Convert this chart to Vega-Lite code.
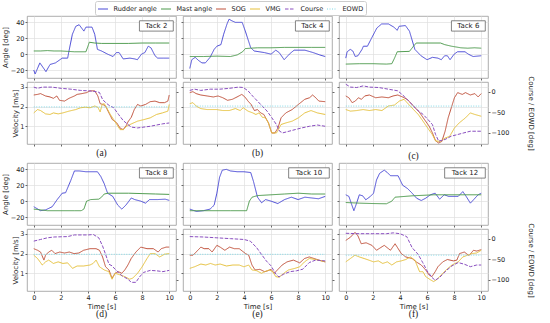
{
"$schema": "https://vega.github.io/schema/vega-lite/v6.json",
"padding": {"left": 1, "top": 0, "right": 0, "bottom": 0},
"config": {"font": "DejaVu Sans", "view": {"stroke": "#999", "strokeWidth": 0.8},
 "axis": {"labelFontSize": 6.5, "titleFontSize": 7, "titleFontWeight": "normal", "tickColor": "#666", "tickSize": 2, "labelPadding": 1, "domain": false, "gridColor": "#e0e0e0", "gridWidth": 0.7, "labelColor": "#222", "titleColor": "#222", "titlePadding": 1.5, "labelOverlap": false, "format": "~g"},
 "axisX": {"titlePadding": 1.5},
 "legend": {"labelFontSize": 6.5, "symbolType": "stroke", "symbolSize": 100, "symbolStrokeWidth": 1.2, "labelOffset": 5, "columnPadding": 1, "strokeColor": "#ccc", "padding": 2.5, "cornerRadius": 2, "fillColor": "white", "labelColor": "#222"},
 "line": {"strokeWidth": 1}},
"data": {"values": [
{"k":2,"s":"Rudder angle","t":0,"v":-20},{"k":2,"s":"Rudder angle","t":0.1,"v":-25},{"k":2,"s":"Rudder angle","t":0.45,"v":-11},{"k":2,"s":"Rudder angle","t":0.9,"v":-22},{"k":2,"s":"Rudder angle","t":1.2,"v":-13},{"k":2,"s":"Rudder angle","t":1.6,"v":-11},{"k":2,"s":"Rudder angle","t":2.1,"v":-5},{"k":2,"s":"Rudder angle","t":2.5,"v":-5},{"k":2,"s":"Rudder angle","t":2.6,"v":4},{"k":2,"s":"Rudder angle","t":2.85,"v":25},{"k":2,"s":"Rudder angle","t":3.1,"v":35},{"k":2,"s":"Rudder angle","t":3.35,"v":37},{"k":2,"s":"Rudder angle","t":3.7,"v":29},{"k":2,"s":"Rudder angle","t":3.85,"v":34},{"k":2,"s":"Rudder angle","t":4.3,"v":34},{"k":2,"s":"Rudder angle","t":4.5,"v":25},{"k":2,"s":"Rudder angle","t":4.7,"v":6},{"k":2,"s":"Rudder angle","t":5.0,"v":4},{"k":2,"s":"Rudder angle","t":5.45,"v":0},{"k":2,"s":"Rudder angle","t":5.85,"v":-3},{"k":2,"s":"Rudder angle","t":6.1,"v":2},{"k":2,"s":"Rudder angle","t":6.3,"v":2},{"k":2,"s":"Rudder angle","t":6.6,"v":-6},{"k":2,"s":"Rudder angle","t":7.1,"v":-5},{"k":2,"s":"Rudder angle","t":7.45,"v":-6},{"k":2,"s":"Rudder angle","t":7.65,"v":-7},{"k":2,"s":"Rudder angle","t":7.95,"v":0},{"k":2,"s":"Rudder angle","t":8.2,"v":2},{"k":2,"s":"Rudder angle","t":8.45,"v":10},{"k":2,"s":"Rudder angle","t":8.65,"v":8},{"k":2,"s":"Rudder angle","t":8.95,"v":-2},{"k":2,"s":"Rudder angle","t":9.15,"v":-5},{"k":2,"s":"Rudder angle","t":9.6,"v":-5},{"k":2,"s":"Rudder angle","t":10,"v":-5},
{"k":2,"s":"Mast angle","t":0,"v":4},{"k":2,"s":"Mast angle","t":0.5,"v":4},{"k":2,"s":"Mast angle","t":1,"v":4.5},{"k":2,"s":"Mast angle","t":1.5,"v":4},{"k":2,"s":"Mast angle","t":2,"v":4},{"k":2,"s":"Mast angle","t":2.5,"v":3.5},{"k":2,"s":"Mast angle","t":3,"v":3},{"k":2,"s":"Mast angle","t":3.85,"v":3},{"k":2,"s":"Mast angle","t":4.0,"v":10},{"k":2,"s":"Mast angle","t":4.1,"v":15},{"k":2,"s":"Mast angle","t":4.5,"v":14},{"k":2,"s":"Mast angle","t":5,"v":13.5},{"k":2,"s":"Mast angle","t":6,"v":13.5},{"k":2,"s":"Mast angle","t":7,"v":13.5},{"k":2,"s":"Mast angle","t":8,"v":14},{"k":2,"s":"Mast angle","t":9,"v":14},{"k":2,"s":"Mast angle","t":10,"v":14},
{"k":2,"s":"SOG","t":0,"v":2.59},{"k":2,"s":"SOG","t":0.28,"v":2.62},{"k":2,"s":"SOG","t":0.5,"v":2.66},{"k":2,"s":"SOG","t":0.87,"v":2.54},{"k":2,"s":"SOG","t":1.2,"v":2.49},{"k":2,"s":"SOG","t":1.45,"v":2.42},{"k":2,"s":"SOG","t":1.7,"v":2.54},{"k":2,"s":"SOG","t":1.9,"v":2.32},{"k":2,"s":"SOG","t":2.27,"v":2.28},{"k":2,"s":"SOG","t":2.6,"v":2.42},{"k":2,"s":"SOG","t":3.0,"v":2.54},{"k":2,"s":"SOG","t":3.2,"v":2.62},{"k":2,"s":"SOG","t":3.55,"v":2.66},{"k":2,"s":"SOG","t":3.9,"v":2.71},{"k":2,"s":"SOG","t":4.15,"v":2.8},{"k":2,"s":"SOG","t":4.5,"v":2.8},{"k":2,"s":"SOG","t":4.73,"v":2.54},{"k":2,"s":"SOG","t":4.9,"v":2.15},{"k":2,"s":"SOG","t":5.1,"v":2.11},{"k":2,"s":"SOG","t":5.3,"v":2.03},{"k":2,"s":"SOG","t":5.55,"v":1.68},{"k":2,"s":"SOG","t":5.8,"v":1.34},{"k":2,"s":"SOG","t":6.13,"v":1.17},{"k":2,"s":"SOG","t":6.37,"v":0.91},{"k":2,"s":"SOG","t":6.6,"v":0.83},{"k":2,"s":"SOG","t":6.84,"v":1.05},{"k":2,"s":"SOG","t":6.95,"v":1.22},{"k":2,"s":"SOG","t":7.2,"v":1.46},{"k":2,"s":"SOG","t":7.42,"v":1.85},{"k":2,"s":"SOG","t":7.66,"v":2.11},{"k":2,"s":"SOG","t":7.9,"v":2.03},{"k":2,"s":"SOG","t":8.25,"v":2.11},{"k":2,"s":"SOG","t":8.6,"v":2.25},{"k":2,"s":"SOG","t":8.95,"v":2.28},{"k":2,"s":"SOG","t":9.3,"v":2.2},{"k":2,"s":"SOG","t":9.65,"v":2.2},{"k":2,"s":"SOG","t":9.9,"v":2.28},{"k":2,"s":"SOG","t":10,"v":2.59},
{"k":2,"s":"VMG","t":0,"v":1.68},{"k":2,"s":"VMG","t":0.28,"v":1.85},{"k":2,"s":"VMG","t":0.5,"v":1.8},{"k":2,"s":"VMG","t":0.87,"v":1.63},{"k":2,"s":"VMG","t":1.2,"v":1.6},{"k":2,"s":"VMG","t":1.45,"v":1.68},{"k":2,"s":"VMG","t":1.8,"v":1.63},{"k":2,"s":"VMG","t":2.15,"v":1.68},{"k":2,"s":"VMG","t":2.6,"v":1.77},{"k":2,"s":"VMG","t":3.1,"v":1.85},{"k":2,"s":"VMG","t":3.45,"v":1.94},{"k":2,"s":"VMG","t":3.8,"v":1.97},{"k":2,"s":"VMG","t":4.15,"v":1.94},{"k":2,"s":"VMG","t":4.5,"v":2.03},{"k":2,"s":"VMG","t":4.73,"v":1.97},{"k":2,"s":"VMG","t":4.9,"v":1.73},{"k":2,"s":"VMG","t":5.05,"v":2.11},{"k":2,"s":"VMG","t":5.2,"v":2.15},{"k":2,"s":"VMG","t":5.45,"v":1.85},{"k":2,"s":"VMG","t":5.65,"v":1.6},{"k":2,"s":"VMG","t":5.9,"v":1.34},{"k":2,"s":"VMG","t":6.13,"v":1.09},{"k":2,"s":"VMG","t":6.37,"v":0.83},{"k":2,"s":"VMG","t":6.6,"v":0.83},{"k":2,"s":"VMG","t":6.84,"v":1.0},{"k":2,"s":"VMG","t":7.2,"v":1.12},{"k":2,"s":"VMG","t":7.66,"v":1.26},{"k":2,"s":"VMG","t":8.13,"v":1.34},{"k":2,"s":"VMG","t":8.6,"v":1.43},{"k":2,"s":"VMG","t":9.06,"v":1.6},{"k":2,"s":"VMG","t":9.5,"v":1.68},{"k":2,"s":"VMG","t":9.9,"v":1.77},{"k":2,"s":"VMG","t":10,"v":2.11},
{"k":2,"s":"Course","t":0,"v":11},{"k":2,"s":"Course","t":0.28,"v":8},{"k":2,"s":"Course","t":0.63,"v":11},{"k":2,"s":"Course","t":1.33,"v":11},{"k":2,"s":"Course","t":2.03,"v":8},{"k":2,"s":"Course","t":2.74,"v":6},{"k":2,"s":"Course","t":3.44,"v":3},{"k":2,"s":"Course","t":4.03,"v":2},{"k":2,"s":"Course","t":4.61,"v":0},{"k":2,"s":"Course","t":4.85,"v":-2},{"k":2,"s":"Course","t":5.08,"v":-19},{"k":2,"s":"Course","t":5.32,"v":-27},{"k":2,"s":"Course","t":5.55,"v":-33},{"k":2,"s":"Course","t":5.9,"v":-39},{"k":2,"s":"Course","t":6.25,"v":-55},{"k":2,"s":"Course","t":6.6,"v":-70},{"k":2,"s":"Course","t":6.96,"v":-80},{"k":2,"s":"Course","t":7.2,"v":-86},{"k":2,"s":"Course","t":7.66,"v":-88},{"k":2,"s":"Course","t":8.13,"v":-86},{"k":2,"s":"Course","t":8.6,"v":-84},{"k":2,"s":"Course","t":9.06,"v":-81},{"k":2,"s":"Course","t":9.53,"v":-78},{"k":2,"s":"Course","t":10,"v":-76},
{"k":2,"s":"EOWD","t":0,"v":-37},{"k":2,"s":"EOWD","t":10,"v":-37},
{"k":4,"s":"Rudder angle","t":0,"v":-18},{"k":4,"s":"Rudder angle","t":0.15,"v":-7},{"k":4,"s":"Rudder angle","t":0.4,"v":-4},{"k":4,"s":"Rudder angle","t":0.65,"v":-8},{"k":4,"s":"Rudder angle","t":0.9,"v":-11},{"k":4,"s":"Rudder angle","t":1.15,"v":-11},{"k":4,"s":"Rudder angle","t":1.5,"v":-4},{"k":4,"s":"Rudder angle","t":1.8,"v":6},{"k":4,"s":"Rudder angle","t":2.0,"v":10},{"k":4,"s":"Rudder angle","t":2.3,"v":12},{"k":4,"s":"Rudder angle","t":2.5,"v":25},{"k":4,"s":"Rudder angle","t":2.75,"v":38},{"k":4,"s":"Rudder angle","t":2.9,"v":44},{"k":4,"s":"Rudder angle","t":3.1,"v":42},{"k":4,"s":"Rudder angle","t":3.37,"v":40},{"k":4,"s":"Rudder angle","t":3.87,"v":40},{"k":4,"s":"Rudder angle","t":4.1,"v":29},{"k":4,"s":"Rudder angle","t":4.5,"v":8},{"k":4,"s":"Rudder angle","t":4.75,"v":4},{"k":4,"s":"Rudder angle","t":5.5,"v":2},{"k":4,"s":"Rudder angle","t":6.0,"v":0},{"k":4,"s":"Rudder angle","t":6.35,"v":5},{"k":4,"s":"Rudder angle","t":6.6,"v":2},{"k":4,"s":"Rudder angle","t":6.97,"v":-7},{"k":4,"s":"Rudder angle","t":7.35,"v":0},{"k":4,"s":"Rudder angle","t":7.7,"v":5},{"k":4,"s":"Rudder angle","t":8.5,"v":5},{"k":4,"s":"Rudder angle","t":9.1,"v":2},{"k":4,"s":"Rudder angle","t":9.6,"v":-1},{"k":4,"s":"Rudder angle","t":10,"v":-3},
{"k":4,"s":"Mast angle","t":0,"v":-3},{"k":4,"s":"Mast angle","t":1,"v":-3},{"k":4,"s":"Mast angle","t":2,"v":-2.5},{"k":4,"s":"Mast angle","t":3,"v":-3},{"k":4,"s":"Mast angle","t":3.5,"v":-1},{"k":4,"s":"Mast angle","t":3.9,"v":3},{"k":4,"s":"Mast angle","t":4.1,"v":7},{"k":4,"s":"Mast angle","t":4.5,"v":7.5},{"k":4,"s":"Mast angle","t":5,"v":8},{"k":4,"s":"Mast angle","t":6,"v":8},{"k":4,"s":"Mast angle","t":7,"v":8.5},{"k":4,"s":"Mast angle","t":8,"v":8.5},{"k":4,"s":"Mast angle","t":9,"v":8.5},{"k":4,"s":"Mast angle","t":10,"v":8.5},
{"k":4,"s":"SOG","t":0,"v":2.71},{"k":4,"s":"SOG","t":0.23,"v":2.76},{"k":4,"s":"SOG","t":0.47,"v":2.66},{"k":4,"s":"SOG","t":0.81,"v":2.59},{"k":4,"s":"SOG","t":1.28,"v":2.54},{"k":4,"s":"SOG","t":1.74,"v":2.49},{"k":4,"s":"SOG","t":2.09,"v":2.54},{"k":4,"s":"SOG","t":2.44,"v":2.45},{"k":4,"s":"SOG","t":2.79,"v":2.32},{"k":4,"s":"SOG","t":3.14,"v":2.37},{"k":4,"s":"SOG","t":3.49,"v":2.49},{"k":4,"s":"SOG","t":3.84,"v":2.62},{"k":4,"s":"SOG","t":4.07,"v":2.49},{"k":4,"s":"SOG","t":4.3,"v":2.28},{"k":4,"s":"SOG","t":4.53,"v":2.11},{"k":4,"s":"SOG","t":4.77,"v":1.8},{"k":4,"s":"SOG","t":5.0,"v":1.85},{"k":4,"s":"SOG","t":5.23,"v":1.68},{"k":4,"s":"SOG","t":5.47,"v":1.6},{"k":4,"s":"SOG","t":5.81,"v":1.17},{"k":4,"s":"SOG","t":6.05,"v":0.66},{"k":4,"s":"SOG","t":6.28,"v":0.66},{"k":4,"s":"SOG","t":6.51,"v":0.91},{"k":4,"s":"SOG","t":6.74,"v":1.43},{"k":4,"s":"SOG","t":7.09,"v":1.68},{"k":4,"s":"SOG","t":7.56,"v":1.85},{"k":4,"s":"SOG","t":8.02,"v":2.11},{"k":4,"s":"SOG","t":8.49,"v":2.37},{"k":4,"s":"SOG","t":8.84,"v":2.45},{"k":4,"s":"SOG","t":9.07,"v":2.59},{"k":4,"s":"SOG","t":9.3,"v":2.45},{"k":4,"s":"SOG","t":9.53,"v":2.28},{"k":4,"s":"SOG","t":10,"v":2.25},
{"k":4,"s":"VMG","t":0,"v":2.15},{"k":4,"s":"VMG","t":0.23,"v":2.2},{"k":4,"s":"VMG","t":0.47,"v":2.03},{"k":4,"s":"VMG","t":0.81,"v":1.9},{"k":4,"s":"VMG","t":1.28,"v":1.85},{"k":4,"s":"VMG","t":1.98,"v":1.85},{"k":4,"s":"VMG","t":2.44,"v":1.8},{"k":4,"s":"VMG","t":2.91,"v":1.8},{"k":4,"s":"VMG","t":3.37,"v":1.9},{"k":4,"s":"VMG","t":3.72,"v":1.8},{"k":4,"s":"VMG","t":3.95,"v":1.94},{"k":4,"s":"VMG","t":4.3,"v":1.77},{"k":4,"s":"VMG","t":4.65,"v":1.68},{"k":4,"s":"VMG","t":4.88,"v":1.6},{"k":4,"s":"VMG","t":5.12,"v":1.68},{"k":4,"s":"VMG","t":5.35,"v":1.46},{"k":4,"s":"VMG","t":5.58,"v":1.43},{"k":4,"s":"VMG","t":5.81,"v":1.17},{"k":4,"s":"VMG","t":6.05,"v":0.66},{"k":4,"s":"VMG","t":6.4,"v":0.66},{"k":4,"s":"VMG","t":6.74,"v":1.09},{"k":4,"s":"VMG","t":7.09,"v":1.17},{"k":4,"s":"VMG","t":7.56,"v":1.26},{"k":4,"s":"VMG","t":8.02,"v":1.43},{"k":4,"s":"VMG","t":8.49,"v":1.68},{"k":4,"s":"VMG","t":8.95,"v":1.8},{"k":4,"s":"VMG","t":9.42,"v":1.68},{"k":4,"s":"VMG","t":10,"v":1.6},
{"k":4,"s":"Course","t":0,"v":3},{"k":4,"s":"Course","t":0.35,"v":6},{"k":4,"s":"Course","t":0.81,"v":3},{"k":4,"s":"Course","t":1.51,"v":6},{"k":4,"s":"Course","t":2.21,"v":6},{"k":4,"s":"Course","t":2.91,"v":8},{"k":4,"s":"Course","t":3.6,"v":11},{"k":4,"s":"Course","t":3.95,"v":10},{"k":4,"s":"Course","t":4.3,"v":2},{"k":4,"s":"Course","t":4.65,"v":-11},{"k":4,"s":"Course","t":5.0,"v":-23},{"k":4,"s":"Course","t":5.35,"v":-35},{"k":4,"s":"Course","t":5.7,"v":-47},{"k":4,"s":"Course","t":6.05,"v":-63},{"k":4,"s":"Course","t":6.4,"v":-80},{"k":4,"s":"Course","t":6.63,"v":-96},{"k":4,"s":"Course","t":6.86,"v":-100},{"k":4,"s":"Course","t":7.33,"v":-96},{"k":4,"s":"Course","t":7.79,"v":-92},{"k":4,"s":"Course","t":8.26,"v":-88},{"k":4,"s":"Course","t":8.84,"v":-84},{"k":4,"s":"Course","t":9.42,"v":-81},{"k":4,"s":"Course","t":10,"v":-84},
{"k":4,"s":"EOWD","t":0,"v":-35},{"k":4,"s":"EOWD","t":10,"v":-35},
{"k":6,"s":"Rudder angle","t":0,"v":-5},{"k":6,"s":"Rudder angle","t":0.1,"v":3},{"k":6,"s":"Rudder angle","t":0.33,"v":6},{"k":6,"s":"Rudder angle","t":0.52,"v":4},{"k":6,"s":"Rudder angle","t":0.7,"v":-3},{"k":6,"s":"Rudder angle","t":0.9,"v":-2},{"k":6,"s":"Rudder angle","t":1.2,"v":6},{"k":6,"s":"Rudder angle","t":1.3,"v":10},{"k":6,"s":"Rudder angle","t":1.6,"v":10},{"k":6,"s":"Rudder angle","t":1.9,"v":20},{"k":6,"s":"Rudder angle","t":2.3,"v":33},{"k":6,"s":"Rudder angle","t":2.65,"v":38},{"k":6,"s":"Rudder angle","t":3.15,"v":38},{"k":6,"s":"Rudder angle","t":3.55,"v":34},{"k":6,"s":"Rudder angle","t":3.8,"v":30},{"k":6,"s":"Rudder angle","t":3.93,"v":35},{"k":6,"s":"Rudder angle","t":4.4,"v":36},{"k":6,"s":"Rudder angle","t":4.7,"v":29},{"k":6,"s":"Rudder angle","t":5.1,"v":6},{"k":6,"s":"Rudder angle","t":5.55,"v":-2},{"k":6,"s":"Rudder angle","t":6.0,"v":-7},{"k":6,"s":"Rudder angle","t":6.4,"v":-4},{"k":6,"s":"Rudder angle","t":6.8,"v":-5},{"k":6,"s":"Rudder angle","t":7.05,"v":-7},{"k":6,"s":"Rudder angle","t":7.3,"v":-2},{"k":6,"s":"Rudder angle","t":7.5,"v":-2},{"k":6,"s":"Rudder angle","t":7.7,"v":-7},{"k":6,"s":"Rudder angle","t":8.0,"v":0},{"k":6,"s":"Rudder angle","t":8.25,"v":3},{"k":6,"s":"Rudder angle","t":8.8,"v":3},{"k":6,"s":"Rudder angle","t":9.05,"v":0},{"k":6,"s":"Rudder angle","t":9.4,"v":-3},{"k":6,"s":"Rudder angle","t":10,"v":-2},
{"k":6,"s":"Mast angle","t":0,"v":-12.5},{"k":6,"s":"Mast angle","t":1,"v":-12},{"k":6,"s":"Mast angle","t":2,"v":-12},{"k":6,"s":"Mast angle","t":3,"v":-12.5},{"k":6,"s":"Mast angle","t":3.4,"v":-12},{"k":6,"s":"Mast angle","t":3.6,"v":-5},{"k":6,"s":"Mast angle","t":3.8,"v":3},{"k":6,"s":"Mast angle","t":4.7,"v":3.5},{"k":6,"s":"Mast angle","t":5.0,"v":10},{"k":6,"s":"Mast angle","t":5.2,"v":14},{"k":6,"s":"Mast angle","t":6,"v":14},{"k":6,"s":"Mast angle","t":7,"v":14},{"k":6,"s":"Mast angle","t":7.3,"v":12},{"k":6,"s":"Mast angle","t":7.8,"v":10},{"k":6,"s":"Mast angle","t":8.5,"v":8},{"k":6,"s":"Mast angle","t":9,"v":7.5},{"k":6,"s":"Mast angle","t":9.5,"v":8},{"k":6,"s":"Mast angle","t":10,"v":7.5},
{"k":6,"s":"SOG","t":0,"v":2.54},{"k":6,"s":"SOG","t":0.23,"v":2.45},{"k":6,"s":"SOG","t":0.47,"v":2.2},{"k":6,"s":"SOG","t":0.7,"v":2.28},{"k":6,"s":"SOG","t":0.93,"v":2.45},{"k":6,"s":"SOG","t":1.16,"v":2.37},{"k":6,"s":"SOG","t":1.4,"v":2.54},{"k":6,"s":"SOG","t":1.74,"v":2.59},{"k":6,"s":"SOG","t":2.21,"v":2.45},{"k":6,"s":"SOG","t":2.67,"v":2.49},{"k":6,"s":"SOG","t":3.14,"v":2.45},{"k":6,"s":"SOG","t":3.49,"v":2.54},{"k":6,"s":"SOG","t":3.84,"v":2.59},{"k":6,"s":"SOG","t":4.19,"v":2.49},{"k":6,"s":"SOG","t":4.53,"v":2.37},{"k":6,"s":"SOG","t":4.77,"v":2.2},{"k":6,"s":"SOG","t":5.12,"v":1.94},{"k":6,"s":"SOG","t":5.47,"v":1.68},{"k":6,"s":"SOG","t":5.81,"v":1.34},{"k":6,"s":"SOG","t":6.16,"v":1.0},{"k":6,"s":"SOG","t":6.4,"v":0.66},{"k":6,"s":"SOG","t":6.63,"v":0.26},{"k":6,"s":"SOG","t":6.86,"v":0.15},{"k":6,"s":"SOG","t":7.09,"v":0.23},{"k":6,"s":"SOG","t":7.33,"v":0.74},{"k":6,"s":"SOG","t":7.56,"v":1.43},{"k":6,"s":"SOG","t":7.79,"v":1.94},{"k":6,"s":"SOG","t":8.02,"v":2.45},{"k":6,"s":"SOG","t":8.26,"v":2.71},{"k":6,"s":"SOG","t":8.6,"v":2.62},{"k":6,"s":"SOG","t":8.84,"v":2.71},{"k":6,"s":"SOG","t":9.19,"v":2.59},{"k":6,"s":"SOG","t":9.53,"v":2.66},{"k":6,"s":"SOG","t":9.77,"v":2.49},{"k":6,"s":"SOG","t":10,"v":2.66},
{"k":6,"s":"VMG","t":0,"v":1.85},{"k":6,"s":"VMG","t":0.35,"v":1.77},{"k":6,"s":"VMG","t":0.81,"v":1.8},{"k":6,"s":"VMG","t":1.28,"v":1.85},{"k":6,"s":"VMG","t":1.74,"v":1.8},{"k":6,"s":"VMG","t":2.21,"v":1.85},{"k":6,"s":"VMG","t":2.67,"v":1.8},{"k":6,"s":"VMG","t":3.14,"v":2.03},{"k":6,"s":"VMG","t":3.6,"v":2.08},{"k":6,"s":"VMG","t":3.95,"v":2.28},{"k":6,"s":"VMG","t":4.3,"v":2.37},{"k":6,"s":"VMG","t":4.65,"v":2.11},{"k":6,"s":"VMG","t":5.0,"v":1.85},{"k":6,"s":"VMG","t":5.35,"v":1.6},{"k":6,"s":"VMG","t":5.7,"v":1.26},{"k":6,"s":"VMG","t":6.05,"v":0.91},{"k":6,"s":"VMG","t":6.4,"v":0.57},{"k":6,"s":"VMG","t":6.63,"v":0.26},{"k":6,"s":"VMG","t":6.98,"v":0.23},{"k":6,"s":"VMG","t":7.33,"v":0.4},{"k":6,"s":"VMG","t":7.67,"v":0.49},{"k":6,"s":"VMG","t":8.02,"v":0.91},{"k":6,"s":"VMG","t":8.37,"v":1.17},{"k":6,"s":"VMG","t":8.84,"v":1.43},{"k":6,"s":"VMG","t":9.19,"v":1.68},{"k":6,"s":"VMG","t":9.53,"v":1.6},{"k":6,"s":"VMG","t":10,"v":1.51},
{"k":6,"s":"Course","t":0,"v":18},{"k":6,"s":"Course","t":0.35,"v":11},{"k":6,"s":"Course","t":0.81,"v":10},{"k":6,"s":"Course","t":1.28,"v":14},{"k":6,"s":"Course","t":1.74,"v":11},{"k":6,"s":"Course","t":2.44,"v":10},{"k":6,"s":"Course","t":3.14,"v":6},{"k":6,"s":"Course","t":3.84,"v":2},{"k":6,"s":"Course","t":4.3,"v":-11},{"k":6,"s":"Course","t":4.77,"v":-27},{"k":6,"s":"Course","t":5.23,"v":-43},{"k":6,"s":"Course","t":5.7,"v":-55},{"k":6,"s":"Course","t":6.05,"v":-67},{"k":6,"s":"Course","t":6.4,"v":-80},{"k":6,"s":"Course","t":6.63,"v":-104},{"k":6,"s":"Course","t":6.86,"v":-120},{"k":6,"s":"Course","t":7.33,"v":-116},{"k":6,"s":"Course","t":7.79,"v":-108},{"k":6,"s":"Course","t":8.26,"v":-104},{"k":6,"s":"Course","t":8.72,"v":-100},{"k":6,"s":"Course","t":9.19,"v":-96},{"k":6,"s":"Course","t":10,"v":-96},
{"k":6,"s":"EOWD","t":0,"v":-35},{"k":6,"s":"EOWD","t":10,"v":-35},
{"k":8,"s":"Rudder angle","t":0,"v":-7},{"k":8,"s":"Rudder angle","t":0.5,"v":-12},{"k":8,"s":"Rudder angle","t":0.87,"v":-11},{"k":8,"s":"Rudder angle","t":1.36,"v":-7},{"k":8,"s":"Rudder angle","t":1.73,"v":2},{"k":8,"s":"Rudder angle","t":2.1,"v":10},{"k":8,"s":"Rudder angle","t":2.35,"v":10.6},{"k":8,"s":"Rudder angle","t":2.73,"v":26},{"k":8,"s":"Rudder angle","t":3.0,"v":38},{"k":8,"s":"Rudder angle","t":3.35,"v":38},{"k":8,"s":"Rudder angle","t":3.85,"v":37},{"k":8,"s":"Rudder angle","t":4.7,"v":37},{"k":8,"s":"Rudder angle","t":4.95,"v":31},{"k":8,"s":"Rudder angle","t":5.2,"v":22},{"k":8,"s":"Rudder angle","t":5.45,"v":10},{"k":8,"s":"Rudder angle","t":5.83,"v":6},{"k":8,"s":"Rudder angle","t":6.2,"v":-5},{"k":8,"s":"Rudder angle","t":6.5,"v":-10},{"k":8,"s":"Rudder angle","t":6.8,"v":-5},{"k":8,"s":"Rudder angle","t":7.2,"v":4},{"k":8,"s":"Rudder angle","t":7.45,"v":2},{"k":8,"s":"Rudder angle","t":7.9,"v":0},{"k":8,"s":"Rudder angle","t":8.25,"v":-2.5},{"k":8,"s":"Rudder angle","t":8.55,"v":2},{"k":8,"s":"Rudder angle","t":9.15,"v":2},{"k":8,"s":"Rudder angle","t":9.7,"v":2.5},{"k":8,"s":"Rudder angle","t":10,"v":1},
{"k":8,"s":"Mast angle","t":0,"v":-10},{"k":8,"s":"Mast angle","t":1,"v":-12},{"k":8,"s":"Mast angle","t":2,"v":-12},{"k":8,"s":"Mast angle","t":3,"v":-12},{"k":8,"s":"Mast angle","t":3.5,"v":-12},{"k":8,"s":"Mast angle","t":3.7,"v":-10},{"k":8,"s":"Mast angle","t":3.9,"v":0},{"k":8,"s":"Mast angle","t":4.2,"v":2},{"k":8,"s":"Mast angle","t":4.8,"v":2.5},{"k":8,"s":"Mast angle","t":5.0,"v":5},{"k":8,"s":"Mast angle","t":5.2,"v":9},{"k":8,"s":"Mast angle","t":5.5,"v":10},{"k":8,"s":"Mast angle","t":6,"v":10},{"k":8,"s":"Mast angle","t":7,"v":10},{"k":8,"s":"Mast angle","t":8,"v":9.5},{"k":8,"s":"Mast angle","t":9,"v":9},{"k":8,"s":"Mast angle","t":10,"v":8.5},
{"k":8,"s":"SOG","t":0,"v":2.25},{"k":8,"s":"SOG","t":0.28,"v":2.17},{"k":8,"s":"SOG","t":0.5,"v":2.08},{"k":8,"s":"SOG","t":0.75,"v":1.67},{"k":8,"s":"SOG","t":0.87,"v":1.92},{"k":8,"s":"SOG","t":1.1,"v":2.08},{"k":8,"s":"SOG","t":1.33,"v":2.17},{"k":8,"s":"SOG","t":1.57,"v":2.0},{"k":8,"s":"SOG","t":1.92,"v":2.08},{"k":8,"s":"SOG","t":2.27,"v":2.03},{"k":8,"s":"SOG","t":2.62,"v":2.08},{"k":8,"s":"SOG","t":2.97,"v":2.0},{"k":8,"s":"SOG","t":3.33,"v":2.03},{"k":8,"s":"SOG","t":3.68,"v":2.17},{"k":8,"s":"SOG","t":4.15,"v":2.25},{"k":8,"s":"SOG","t":4.6,"v":2.25},{"k":8,"s":"SOG","t":4.85,"v":2.17},{"k":8,"s":"SOG","t":5.08,"v":1.83},{"k":8,"s":"SOG","t":5.3,"v":1.33},{"k":8,"s":"SOG","t":5.55,"v":1.17},{"k":8,"s":"SOG","t":5.78,"v":0.75},{"k":8,"s":"SOG","t":6.0,"v":1.0},{"k":8,"s":"SOG","t":6.25,"v":1.08},{"k":8,"s":"SOG","t":6.5,"v":1.0},{"k":8,"s":"SOG","t":6.72,"v":1.17},{"k":8,"s":"SOG","t":6.95,"v":1.42},{"k":8,"s":"SOG","t":7.19,"v":1.75},{"k":8,"s":"SOG","t":7.54,"v":2.08},{"k":8,"s":"SOG","t":7.9,"v":2.33},{"k":8,"s":"SOG","t":8.36,"v":2.25},{"k":8,"s":"SOG","t":8.83,"v":2.25},{"k":8,"s":"SOG","t":9.18,"v":2.08},{"k":8,"s":"SOG","t":9.41,"v":2.25},{"k":8,"s":"SOG","t":9.77,"v":2.33},{"k":8,"s":"SOG","t":10,"v":2.33},
{"k":8,"s":"VMG","t":0,"v":1.92},{"k":8,"s":"VMG","t":0.28,"v":1.75},{"k":8,"s":"VMG","t":0.63,"v":1.42},{"k":8,"s":"VMG","t":0.87,"v":1.58},{"k":8,"s":"VMG","t":1.1,"v":1.67},{"k":8,"s":"VMG","t":1.45,"v":1.5},{"k":8,"s":"VMG","t":1.8,"v":1.58},{"k":8,"s":"VMG","t":2.15,"v":1.5},{"k":8,"s":"VMG","t":2.5,"v":1.53},{"k":8,"s":"VMG","t":2.86,"v":1.25},{"k":8,"s":"VMG","t":3.2,"v":1.37},{"k":8,"s":"VMG","t":3.68,"v":1.37},{"k":8,"s":"VMG","t":4.15,"v":1.42},{"k":8,"s":"VMG","t":4.38,"v":1.5},{"k":8,"s":"VMG","t":4.6,"v":1.67},{"k":8,"s":"VMG","t":4.85,"v":1.33},{"k":8,"s":"VMG","t":5.2,"v":1.17},{"k":8,"s":"VMG","t":5.55,"v":1.08},{"k":8,"s":"VMG","t":5.78,"v":0.7},{"k":8,"s":"VMG","t":6.0,"v":1.0},{"k":8,"s":"VMG","t":6.37,"v":0.92},{"k":8,"s":"VMG","t":6.72,"v":0.83},{"k":8,"s":"VMG","t":7.07,"v":0.7},{"k":8,"s":"VMG","t":7.3,"v":0.75},{"k":8,"s":"VMG","t":7.66,"v":1.0},{"k":8,"s":"VMG","t":8.0,"v":1.33},{"k":8,"s":"VMG","t":8.36,"v":1.75},{"k":8,"s":"VMG","t":8.6,"v":2.0},{"k":8,"s":"VMG","t":8.95,"v":2.0},{"k":8,"s":"VMG","t":9.3,"v":1.83},{"k":8,"s":"VMG","t":9.65,"v":1.97},{"k":8,"s":"VMG","t":10,"v":2.0},
{"k":8,"s":"Course","t":0,"v":-6},{"k":8,"s":"Course","t":0.5,"v":-2},{"k":8,"s":"Course","t":1.0,"v":2},{"k":8,"s":"Course","t":1.5,"v":4},{"k":8,"s":"Course","t":2.5,"v":5},{"k":8,"s":"Course","t":3.0,"v":9},{"k":8,"s":"Course","t":4.0,"v":9},{"k":8,"s":"Course","t":4.4,"v":10},{"k":8,"s":"Course","t":4.8,"v":2},{"k":8,"s":"Course","t":5.08,"v":-18},{"k":8,"s":"Course","t":5.3,"v":-38},{"k":8,"s":"Course","t":5.55,"v":-62},{"k":8,"s":"Course","t":5.78,"v":-66},{"k":8,"s":"Course","t":6.0,"v":-74},{"k":8,"s":"Course","t":6.25,"v":-82},{"k":8,"s":"Course","t":6.5,"v":-90},{"k":8,"s":"Course","t":6.72,"v":-94},{"k":8,"s":"Course","t":6.95,"v":-98},{"k":8,"s":"Course","t":7.19,"v":-106},{"k":8,"s":"Course","t":7.54,"v":-106},{"k":8,"s":"Course","t":7.78,"v":-94},{"k":8,"s":"Course","t":8.1,"v":-82},{"k":8,"s":"Course","t":8.6,"v":-77},{"k":8,"s":"Course","t":9.06,"v":-78},{"k":8,"s":"Course","t":9.53,"v":-80},{"k":8,"s":"Course","t":10,"v":-77},
{"k":8,"s":"EOWD","t":0,"v":-38},{"k":8,"s":"EOWD","t":10,"v":-38},
{"k":10,"s":"Rudder angle","t":0,"v":-10},{"k":10,"s":"Rudder angle","t":0.5,"v":-13},{"k":10,"s":"Rudder angle","t":1,"v":-12},{"k":10,"s":"Rudder angle","t":1.5,"v":-10},{"k":10,"s":"Rudder angle","t":1.8,"v":-5},{"k":10,"s":"Rudder angle","t":2.0,"v":10},{"k":10,"s":"Rudder angle","t":2.2,"v":30},{"k":10,"s":"Rudder angle","t":2.4,"v":39},{"k":10,"s":"Rudder angle","t":2.7,"v":40},{"k":10,"s":"Rudder angle","t":3,"v":38},{"k":10,"s":"Rudder angle","t":3.5,"v":37},{"k":10,"s":"Rudder angle","t":4,"v":37},{"k":10,"s":"Rudder angle","t":4.5,"v":36},{"k":10,"s":"Rudder angle","t":4.7,"v":25},{"k":10,"s":"Rudder angle","t":5,"v":5},{"k":10,"s":"Rudder angle","t":5.3,"v":-2},{"k":10,"s":"Rudder angle","t":5.6,"v":2},{"k":10,"s":"Rudder angle","t":6,"v":0},{"k":10,"s":"Rudder angle","t":6.5,"v":-3},{"k":10,"s":"Rudder angle","t":7,"v":2},{"k":10,"s":"Rudder angle","t":7.5,"v":5},{"k":10,"s":"Rudder angle","t":8,"v":2},{"k":10,"s":"Rudder angle","t":8.5,"v":5},{"k":10,"s":"Rudder angle","t":9,"v":4},{"k":10,"s":"Rudder angle","t":9.5,"v":3},{"k":10,"s":"Rudder angle","t":10,"v":6},
{"k":10,"s":"Mast angle","t":0,"v":-12},{"k":10,"s":"Mast angle","t":1,"v":-12},{"k":10,"s":"Mast angle","t":2,"v":-12},{"k":10,"s":"Mast angle","t":3,"v":-12},{"k":10,"s":"Mast angle","t":4.2,"v":-12},{"k":10,"s":"Mast angle","t":4.4,"v":0},{"k":10,"s":"Mast angle","t":4.6,"v":5},{"k":10,"s":"Mast angle","t":5,"v":7},{"k":10,"s":"Mast angle","t":6,"v":8},{"k":10,"s":"Mast angle","t":7,"v":9},{"k":10,"s":"Mast angle","t":8,"v":10},{"k":10,"s":"Mast angle","t":9,"v":9},{"k":10,"s":"Mast angle","t":10,"v":9},
{"k":10,"s":"SOG","t":0,"v":1.92},{"k":10,"s":"SOG","t":0.24,"v":1.92},{"k":10,"s":"SOG","t":0.47,"v":2.08},{"k":10,"s":"SOG","t":0.82,"v":2.33},{"k":10,"s":"SOG","t":1.06,"v":2.25},{"k":10,"s":"SOG","t":1.41,"v":2.25},{"k":10,"s":"SOG","t":1.65,"v":2.08},{"k":10,"s":"SOG","t":2.0,"v":2.42},{"k":10,"s":"SOG","t":2.24,"v":2.33},{"k":10,"s":"SOG","t":2.59,"v":2.17},{"k":10,"s":"SOG","t":2.94,"v":2.33},{"k":10,"s":"SOG","t":3.29,"v":2.25},{"k":10,"s":"SOG","t":3.65,"v":2.25},{"k":10,"s":"SOG","t":4.12,"v":2.0},{"k":10,"s":"SOG","t":4.35,"v":1.92},{"k":10,"s":"SOG","t":4.59,"v":1.42},{"k":10,"s":"SOG","t":4.82,"v":1.17},{"k":10,"s":"SOG","t":5.18,"v":1.2},{"k":10,"s":"SOG","t":5.53,"v":1.08},{"k":10,"s":"SOG","t":5.76,"v":1.13},{"k":10,"s":"SOG","t":6.0,"v":1.2},{"k":10,"s":"SOG","t":6.24,"v":1.0},{"k":10,"s":"SOG","t":6.47,"v":1.17},{"k":10,"s":"SOG","t":6.82,"v":1.42},{"k":10,"s":"SOG","t":7.18,"v":1.58},{"k":10,"s":"SOG","t":7.65,"v":1.67},{"k":10,"s":"SOG","t":8.12,"v":1.53},{"k":10,"s":"SOG","t":8.47,"v":1.75},{"k":10,"s":"SOG","t":8.82,"v":1.83},{"k":10,"s":"SOG","t":9.18,"v":1.75},{"k":10,"s":"SOG","t":9.53,"v":1.67},{"k":10,"s":"SOG","t":10,"v":1.58},
{"k":10,"s":"VMG","t":0,"v":1.25},{"k":10,"s":"VMG","t":0.35,"v":1.33},{"k":10,"s":"VMG","t":0.82,"v":1.47},{"k":10,"s":"VMG","t":1.18,"v":1.42},{"k":10,"s":"VMG","t":1.53,"v":1.5},{"k":10,"s":"VMG","t":1.88,"v":1.42},{"k":10,"s":"VMG","t":2.24,"v":1.47},{"k":10,"s":"VMG","t":2.71,"v":1.37},{"k":10,"s":"VMG","t":3.18,"v":1.42},{"k":10,"s":"VMG","t":3.65,"v":1.42},{"k":10,"s":"VMG","t":4.0,"v":1.33},{"k":10,"s":"VMG","t":4.35,"v":1.42},{"k":10,"s":"VMG","t":4.59,"v":1.17},{"k":10,"s":"VMG","t":4.94,"v":1.13},{"k":10,"s":"VMG","t":5.29,"v":1.0},{"k":10,"s":"VMG","t":5.53,"v":1.08},{"k":10,"s":"VMG","t":5.88,"v":1.17},{"k":10,"s":"VMG","t":6.12,"v":1.08},{"k":10,"s":"VMG","t":6.35,"v":0.83},{"k":10,"s":"VMG","t":6.59,"v":0.8},{"k":10,"s":"VMG","t":6.94,"v":1.0},{"k":10,"s":"VMG","t":7.29,"v":1.17},{"k":10,"s":"VMG","t":7.76,"v":1.25},{"k":10,"s":"VMG","t":8.12,"v":1.33},{"k":10,"s":"VMG","t":8.47,"v":1.58},{"k":10,"s":"VMG","t":8.82,"v":1.75},{"k":10,"s":"VMG","t":9.29,"v":1.7},{"k":10,"s":"VMG","t":10,"v":1.58},
{"k":10,"s":"Course","t":0,"v":5},{"k":10,"s":"Course","t":1,"v":4},{"k":10,"s":"Course","t":2,"v":2},{"k":10,"s":"Course","t":3,"v":0},{"k":10,"s":"Course","t":4,"v":-2},{"k":10,"s":"Course","t":4.47,"v":-6},{"k":10,"s":"Course","t":4.94,"v":-22},{"k":10,"s":"Course","t":5.29,"v":-38},{"k":10,"s":"Course","t":5.65,"v":-54},{"k":10,"s":"Course","t":6.0,"v":-66},{"k":10,"s":"Course","t":6.35,"v":-86},{"k":10,"s":"Course","t":6.59,"v":-93},{"k":10,"s":"Course","t":6.94,"v":-86},{"k":10,"s":"Course","t":7.41,"v":-80},{"k":10,"s":"Course","t":7.88,"v":-78},{"k":10,"s":"Course","t":8.35,"v":-74},{"k":10,"s":"Course","t":8.82,"v":-58},{"k":10,"s":"Course","t":9.29,"v":-52},{"k":10,"s":"Course","t":10,"v":-54},
{"k":10,"s":"EOWD","t":0,"v":-38},{"k":10,"s":"EOWD","t":10,"v":-38},
{"k":12,"s":"Rudder angle","t":0,"v":8},{"k":12,"s":"Rudder angle","t":0.23,"v":6},{"k":12,"s":"Rudder angle","t":0.45,"v":-5},{"k":12,"s":"Rudder angle","t":0.6,"v":-12},{"k":12,"s":"Rudder angle","t":0.8,"v":-2.5},{"k":12,"s":"Rudder angle","t":1.0,"v":8},{"k":12,"s":"Rudder angle","t":1.25,"v":6.7},{"k":12,"s":"Rudder angle","t":1.48,"v":1.7},{"k":12,"s":"Rudder angle","t":1.82,"v":6},{"k":12,"s":"Rudder angle","t":2.05,"v":10},{"k":12,"s":"Rudder angle","t":2.27,"v":26.7},{"k":12,"s":"Rudder angle","t":2.5,"v":35},{"k":12,"s":"Rudder angle","t":2.84,"v":39},{"k":12,"s":"Rudder angle","t":3.07,"v":36},{"k":12,"s":"Rudder angle","t":3.3,"v":32},{"k":12,"s":"Rudder angle","t":3.86,"v":32},{"k":12,"s":"Rudder angle","t":4.2,"v":20},{"k":12,"s":"Rudder angle","t":4.55,"v":16},{"k":12,"s":"Rudder angle","t":4.9,"v":10},{"k":12,"s":"Rudder angle","t":5.23,"v":3.7},{"k":12,"s":"Rudder angle","t":5.57,"v":0.8},{"k":12,"s":"Rudder angle","t":5.9,"v":3.7},{"k":12,"s":"Rudder angle","t":6.25,"v":8},{"k":12,"s":"Rudder angle","t":6.6,"v":10},{"k":12,"s":"Rudder angle","t":6.93,"v":2.5},{"k":12,"s":"Rudder angle","t":7.27,"v":8},{"k":12,"s":"Rudder angle","t":7.6,"v":6},{"k":12,"s":"Rudder angle","t":8.3,"v":6},{"k":12,"s":"Rudder angle","t":8.64,"v":12},{"k":12,"s":"Rudder angle","t":8.86,"v":6.7},{"k":12,"s":"Rudder angle","t":9.2,"v":-2.5},{"k":12,"s":"Rudder angle","t":9.43,"v":1.7},{"k":12,"s":"Rudder angle","t":9.77,"v":8},{"k":12,"s":"Rudder angle","t":10,"v":10},
{"k":12,"s":"Mast angle","t":0,"v":-1.7},{"k":12,"s":"Mast angle","t":1,"v":-2.5},{"k":12,"s":"Mast angle","t":2,"v":-3},{"k":12,"s":"Mast angle","t":3,"v":-3.3},{"k":12,"s":"Mast angle","t":3.4,"v":0},{"k":12,"s":"Mast angle","t":3.64,"v":5},{"k":12,"s":"Mast angle","t":4.9,"v":6.7},{"k":12,"s":"Mast angle","t":6.5,"v":8},{"k":12,"s":"Mast angle","t":8,"v":8},{"k":12,"s":"Mast angle","t":10,"v":8},
{"k":12,"s":"SOG","t":0,"v":2.67},{"k":12,"s":"SOG","t":0.34,"v":2.83},{"k":12,"s":"SOG","t":0.68,"v":3.08},{"k":12,"s":"SOG","t":0.9,"v":2.9},{"k":12,"s":"SOG","t":1.14,"v":2.5},{"k":12,"s":"SOG","t":1.5,"v":2.55},{"k":12,"s":"SOG","t":1.93,"v":2.42},{"k":12,"s":"SOG","t":2.27,"v":2.17},{"k":12,"s":"SOG","t":2.84,"v":2.42},{"k":12,"s":"SOG","t":3.3,"v":2.17},{"k":12,"s":"SOG","t":3.64,"v":2.5},{"k":12,"s":"SOG","t":4.1,"v":2.0},{"k":12,"s":"SOG","t":4.43,"v":1.83},{"k":12,"s":"SOG","t":4.9,"v":1.75},{"k":12,"s":"SOG","t":5.2,"v":1.58},{"k":12,"s":"SOG","t":5.57,"v":1.42},{"k":12,"s":"SOG","t":5.9,"v":1.17},{"k":12,"s":"SOG","t":6.14,"v":0.92},{"k":12,"s":"SOG","t":6.36,"v":0.83},{"k":12,"s":"SOG","t":6.6,"v":1.08},{"k":12,"s":"SOG","t":6.8,"v":1.33},{"k":12,"s":"SOG","t":7.16,"v":1.58},{"k":12,"s":"SOG","t":7.5,"v":1.7},{"k":12,"s":"SOG","t":7.95,"v":1.63},{"k":12,"s":"SOG","t":8.2,"v":1.67},{"k":12,"s":"SOG","t":8.4,"v":2.0},{"k":12,"s":"SOG","t":8.75,"v":2.08},{"k":12,"s":"SOG","t":9.1,"v":1.9},{"k":12,"s":"SOG","t":9.43,"v":2.17},{"k":12,"s":"SOG","t":9.66,"v":2.13},{"k":12,"s":"SOG","t":10,"v":2.2},
{"k":12,"s":"VMG","t":0,"v":1.58},{"k":12,"s":"VMG","t":0.34,"v":1.75},{"k":12,"s":"VMG","t":0.68,"v":1.92},{"k":12,"s":"VMG","t":1.0,"v":1.83},{"k":12,"s":"VMG","t":1.36,"v":1.75},{"k":12,"s":"VMG","t":1.7,"v":1.67},{"k":12,"s":"VMG","t":2.05,"v":1.58},{"k":12,"s":"VMG","t":2.4,"v":1.63},{"k":12,"s":"VMG","t":2.73,"v":1.5},{"k":12,"s":"VMG","t":3.07,"v":1.58},{"k":12,"s":"VMG","t":3.4,"v":1.42},{"k":12,"s":"VMG","t":3.75,"v":1.58},{"k":12,"s":"VMG","t":4.1,"v":1.63},{"k":12,"s":"VMG","t":4.43,"v":1.7},{"k":12,"s":"VMG","t":4.77,"v":1.83},{"k":12,"s":"VMG","t":5.1,"v":1.67},{"k":12,"s":"VMG","t":5.45,"v":1.08},{"k":12,"s":"VMG","t":5.7,"v":1.08},{"k":12,"s":"VMG","t":5.9,"v":0.83},{"k":12,"s":"VMG","t":6.25,"v":0.67},{"k":12,"s":"VMG","t":6.48,"v":0.58},{"k":12,"s":"VMG","t":6.7,"v":0.67},{"k":12,"s":"VMG","t":7.05,"v":0.92},{"k":12,"s":"VMG","t":7.4,"v":1.17},{"k":12,"s":"VMG","t":7.84,"v":1.42},{"k":12,"s":"VMG","t":8.3,"v":1.58},{"k":12,"s":"VMG","t":8.64,"v":1.83},{"k":12,"s":"VMG","t":9.0,"v":1.92},{"k":12,"s":"VMG","t":9.3,"v":2.0},{"k":12,"s":"VMG","t":9.66,"v":2.03},{"k":12,"s":"VMG","t":10,"v":2.17},
{"k":12,"s":"Course","t":0,"v":13},{"k":12,"s":"Course","t":1,"v":12},{"k":12,"s":"Course","t":2,"v":12},{"k":12,"s":"Course","t":3,"v":12},{"k":12,"s":"Course","t":3.5,"v":14},{"k":12,"s":"Course","t":4,"v":12},{"k":12,"s":"Course","t":4.5,"v":5},{"k":12,"s":"Course","t":4.9,"v":-22},{"k":12,"s":"Course","t":5.34,"v":-38},{"k":12,"s":"Course","t":5.68,"v":-58},{"k":12,"s":"Course","t":6.0,"v":-78},{"k":12,"s":"Course","t":6.36,"v":-94},{"k":12,"s":"Course","t":6.6,"v":-101},{"k":12,"s":"Course","t":6.93,"v":-94},{"k":12,"s":"Course","t":7.4,"v":-78},{"k":12,"s":"Course","t":7.84,"v":-66},{"k":12,"s":"Course","t":8.3,"v":-58},{"k":12,"s":"Course","t":8.75,"v":-62},{"k":12,"s":"Course","t":9.2,"v":-68},{"k":12,"s":"Course","t":9.66,"v":-64},{"k":12,"s":"Course","t":10,"v":-64},
{"k":12,"s":"EOWD","t":0,"v":-40},{"k":12,"s":"EOWD","t":10,"v":-40}
]},
"resolve": {"scale": {"color": "shared", "strokeDash": "shared"}, "legend": {"color": "shared", "strokeDash": "shared"}},
"vconcat": [
{"hconcat": [
 {"vconcat": [
  {"width": 149, "height": 62, "layer": [
   {"transform": [{"filter": "datum.k==2 && (datum.s=='Rudder angle' || datum.s=='Mast angle')"}], "mark": {"type": "line", "clip": true},
    "encoding": {"x": {"field": "t", "type": "quantitative", "scale": {"domain": [-0.5, 10.5], "nice": false, "zero": false}, "axis": {"values": [0,2,4,6,8,10], "tickCount": 20, "labels": false, "title": null}},
     "y": {"field": "v", "type": "quantitative", "scale": {"domain": [-30, 48], "nice": false, "zero": false}, "axis": {"values": [-20,0,20,40], "tickCount": 20, "format": "d", "title": "Angle [deg]"}},
     "color": {"field": "s", "type": "nominal", "scale": {"domain": ["Rudder angle","Mast angle","SOG","VMG","Course","EOWD"], "range": ["#4a4ad6","#4c9a4c","#c0503a","#e6c13c","#8a4fc0","#7fd8e6"]}, "legend": {"orient": "none", "legendX": 68, "legendY": -15, "direction": "horizontal", "title": null}},
     "strokeDash": {"field": "s", "type": "nominal", "scale": {"domain": ["Rudder angle","Mast angle","SOG","VMG","Course","EOWD"], "range": [[1,0],[1,0],[1,0],[1,0],[3.5,1.5],[1,1.5]]}, "legend": {"orient": "none", "legendX": 68, "legendY": -15, "direction": "horizontal", "title": null}}}},
   {"data": {"values": [{}]}, "mark": {"type": "rect", "fill": "white", "stroke": "#666", "strokeWidth": 0.8}, "encoding": {"x": {"datum": 7.8}, "x2": {"datum": 10.3}, "y": {"datum": 29}, "y2": {"datum": 42}}},
   {"data": {"values": [{}]}, "mark": {"type": "text", "fontSize": 7, "color": "#222"}, "encoding": {"x": {"datum": 9.05}, "y": {"datum": 35.5}, "text": {"value": "Tack 2"}}}
  ]},
  {"width": 149, "height": 62, "title": {"text": "(a)", "orient": "bottom", "font": "Liberation Serif", "fontSize": 9.5, "fontWeight": "normal", "offset": 1, "color": "#222"}, "layer": [
   {"transform": [{"filter": "datum.k==2 && (datum.s=='SOG' || datum.s=='VMG')"}], "mark": {"type": "line", "clip": true},
    "encoding": {"x": {"field": "t", "type": "quantitative", "scale": {"domain": [-0.5, 10.5], "nice": false, "zero": false}, "axis": {"values": [0,2,4,6,8,10], "tickCount": 20, "labels": false, "title": null}},
     "y": {"field": "v", "type": "quantitative", "scale": {"domain": [0.1, 3.25], "nice": false, "zero": false}, "axis": {"values": [1,2,3], "tickCount": 20, "format": "d", "title": "Velocity [m/s]"}},
     "color": {"field": "s", "type": "nominal"}, "strokeDash": {"field": "s", "type": "nominal"}}},
   {"transform": [{"filter": "datum.k==2 && (datum.s=='Course' || datum.s=='EOWD')"}], "mark": {"type": "line", "clip": true},
    "encoding": {"x": {"field": "t", "type": "quantitative"},
     "y": {"field": "v", "type": "quantitative", "scale": {"domain": [-127, 23.4], "nice": false, "zero": false}, "axis": {"orient": "right", "values": [-100,-50,0], "tickCount": 20, "labels": false, "title": null, "grid": false}},
     "color": {"field": "s", "type": "nominal"}, "strokeDash": {"field": "s", "type": "nominal"}}}
  ], "resolve": {"scale": {"y": "independent"}}}
 ], "spacing": 4, "bounds": "flush"},
 {"vconcat": [
  {"width": 149, "height": 62, "layer": [
   {"transform": [{"filter": "datum.k==4 && (datum.s=='Rudder angle' || datum.s=='Mast angle')"}], "mark": {"type": "line", "clip": true},
    "encoding": {"x": {"field": "t", "type": "quantitative", "scale": {"domain": [-0.5, 10.5], "nice": false, "zero": false}, "axis": {"values": [0,2,4,6,8,10], "tickCount": 20, "labels": false, "title": null}},
     "y": {"field": "v", "type": "quantitative", "scale": {"domain": [-30, 48], "nice": false, "zero": false}, "axis": {"values": [-20,0,20,40], "tickCount": 20, "labels": false, "title": null}},
     "color": {"field": "s", "type": "nominal"}, "strokeDash": {"field": "s", "type": "nominal"}}},
   {"data": {"values": [{}]}, "mark": {"type": "rect", "fill": "white", "stroke": "#666", "strokeWidth": 0.8}, "encoding": {"x": {"datum": 7.8}, "x2": {"datum": 10.3}, "y": {"datum": 29}, "y2": {"datum": 42}}},
   {"data": {"values": [{}]}, "mark": {"type": "text", "fontSize": 7, "color": "#222"}, "encoding": {"x": {"datum": 9.05}, "y": {"datum": 35.5}, "text": {"value": "Tack 4"}}}
  ]},
  {"width": 149, "height": 62, "title": {"text": "(b)", "orient": "bottom", "font": "Liberation Serif", "fontSize": 9.5, "fontWeight": "normal", "offset": 1, "color": "#222"}, "layer": [
   {"transform": [{"filter": "datum.k==4 && (datum.s=='SOG' || datum.s=='VMG')"}], "mark": {"type": "line", "clip": true},
    "encoding": {"x": {"field": "t", "type": "quantitative", "scale": {"domain": [-0.5, 10.5], "nice": false, "zero": false}, "axis": {"values": [0,2,4,6,8,10], "tickCount": 20, "labels": false, "title": null}},
     "y": {"field": "v", "type": "quantitative", "scale": {"domain": [0.1, 3.25], "nice": false, "zero": false}, "axis": {"values": [1,2,3], "tickCount": 20, "labels": false, "title": null}},
     "color": {"field": "s", "type": "nominal"}, "strokeDash": {"field": "s", "type": "nominal"}}},
   {"transform": [{"filter": "datum.k==4 && (datum.s=='Course' || datum.s=='EOWD')"}], "mark": {"type": "line", "clip": true},
    "encoding": {"x": {"field": "t", "type": "quantitative"},
     "y": {"field": "v", "type": "quantitative", "scale": {"domain": [-127, 23.4], "nice": false, "zero": false}, "axis": {"orient": "right", "values": [-100,-50,0], "tickCount": 20, "labels": false, "title": null, "grid": false}},
     "color": {"field": "s", "type": "nominal"}, "strokeDash": {"field": "s", "type": "nominal"}}}
  ], "resolve": {"scale": {"y": "independent"}}}
 ], "spacing": 4, "bounds": "flush"},
 {"vconcat": [
  {"width": 149, "height": 62, "layer": [
   {"transform": [{"filter": "datum.k==6 && (datum.s=='Rudder angle' || datum.s=='Mast angle')"}], "mark": {"type": "line", "clip": true},
    "encoding": {"x": {"field": "t", "type": "quantitative", "scale": {"domain": [-0.5, 10.5], "nice": false, "zero": false}, "axis": {"values": [0,2,4,6,8,10], "tickCount": 20, "labels": false, "title": null}},
     "y": {"field": "v", "type": "quantitative", "scale": {"domain": [-30, 48], "nice": false, "zero": false}, "axis": {"values": [-20,0,20,40], "tickCount": 20, "labels": false, "title": null}},
     "color": {"field": "s", "type": "nominal"}, "strokeDash": {"field": "s", "type": "nominal"}}},
   {"data": {"values": [{}]}, "mark": {"type": "rect", "fill": "white", "stroke": "#666", "strokeWidth": 0.8}, "encoding": {"x": {"datum": 7.8}, "x2": {"datum": 10.3}, "y": {"datum": 29}, "y2": {"datum": 42}}},
   {"data": {"values": [{}]}, "mark": {"type": "text", "fontSize": 7, "color": "#222"}, "encoding": {"x": {"datum": 9.05}, "y": {"datum": 35.5}, "text": {"value": "Tack 6"}}}
  ]},
  {"width": 149, "height": 62, "title": {"text": "(c)", "orient": "bottom", "font": "Liberation Serif", "fontSize": 9.5, "fontWeight": "normal", "offset": 1, "color": "#222"}, "layer": [
   {"transform": [{"filter": "datum.k==6 && (datum.s=='SOG' || datum.s=='VMG')"}], "mark": {"type": "line", "clip": true},
    "encoding": {"x": {"field": "t", "type": "quantitative", "scale": {"domain": [-0.5, 10.5], "nice": false, "zero": false}, "axis": {"values": [0,2,4,6,8,10], "tickCount": 20, "labels": false, "title": null}},
     "y": {"field": "v", "type": "quantitative", "scale": {"domain": [0.1, 3.25], "nice": false, "zero": false}, "axis": {"values": [1,2,3], "tickCount": 20, "labels": false, "title": null}},
     "color": {"field": "s", "type": "nominal"}, "strokeDash": {"field": "s", "type": "nominal"}}},
   {"transform": [{"filter": "datum.k==6 && (datum.s=='Course' || datum.s=='EOWD')"}], "mark": {"type": "line", "clip": true},
    "encoding": {"x": {"field": "t", "type": "quantitative"},
     "y": {"field": "v", "type": "quantitative", "scale": {"domain": [-127, 23.4], "nice": false, "zero": false}, "axis": {"orient": "right", "values": [-100,-50,0], "tickCount": 20, "format": "d", "title": "Course / EOWD [deg]", "grid": false, "titlePadding": 19, "titleFontSize": 7}},
     "color": {"field": "s", "type": "nominal"}, "strokeDash": {"field": "s", "type": "nominal"}}}
  ], "resolve": {"scale": {"y": "independent"}}}
 ], "spacing": 4, "bounds": "flush"}
], "spacing": 1},
{"hconcat": [
 {"vconcat": [
  {"width": 149, "height": 62, "layer": [
   {"transform": [{"filter": "datum.k==8 && (datum.s=='Rudder angle' || datum.s=='Mast angle')"}], "mark": {"type": "line", "clip": true},
    "encoding": {"x": {"field": "t", "type": "quantitative", "scale": {"domain": [-0.5, 10.5], "nice": false, "zero": false}, "axis": {"values": [0,2,4,6,8,10], "tickCount": 20, "labels": false, "title": null}},
     "y": {"field": "v", "type": "quantitative", "scale": {"domain": [-30, 48], "nice": false, "zero": false}, "axis": {"values": [-20,0,20,40], "tickCount": 20, "format": "d", "title": "Angle [deg]"}},
     "color": {"field": "s", "type": "nominal"}, "strokeDash": {"field": "s", "type": "nominal"}}},
   {"data": {"values": [{}]}, "mark": {"type": "rect", "fill": "white", "stroke": "#666", "strokeWidth": 0.8}, "encoding": {"x": {"datum": 7.8}, "x2": {"datum": 10.3}, "y": {"datum": 29}, "y2": {"datum": 42}}},
   {"data": {"values": [{}]}, "mark": {"type": "text", "fontSize": 7, "color": "#222"}, "encoding": {"x": {"datum": 9.05}, "y": {"datum": 35.5}, "text": {"value": "Tack 8"}}}
  ]},
  {"width": 149, "height": 62, "title": {"text": "(d)", "orient": "bottom", "font": "Liberation Serif", "fontSize": 9.5, "fontWeight": "normal", "offset": 0, "color": "#222"}, "layer": [
   {"transform": [{"filter": "datum.k==8 && (datum.s=='SOG' || datum.s=='VMG')"}], "mark": {"type": "line", "clip": true},
    "encoding": {"x": {"field": "t", "type": "quantitative", "scale": {"domain": [-0.5, 10.5], "nice": false, "zero": false}, "axis": {"values": [0,2,4,6,8,10], "tickCount": 20, "format": "d", "title": "Time [s]"}},
     "y": {"field": "v", "type": "quantitative", "scale": {"domain": [0.1, 3.25], "nice": false, "zero": false}, "axis": {"values": [1,2,3], "tickCount": 20, "format": "d", "title": "Velocity [m/s]"}},
     "color": {"field": "s", "type": "nominal"}, "strokeDash": {"field": "s", "type": "nominal"}}},
   {"transform": [{"filter": "datum.k==8 && (datum.s=='Course' || datum.s=='EOWD')"}], "mark": {"type": "line", "clip": true},
    "encoding": {"x": {"field": "t", "type": "quantitative"},
     "y": {"field": "v", "type": "quantitative", "scale": {"domain": [-127, 23.4], "nice": false, "zero": false}, "axis": {"orient": "right", "values": [-100,-50,0], "tickCount": 20, "labels": false, "title": null, "grid": false}},
     "color": {"field": "s", "type": "nominal"}, "strokeDash": {"field": "s", "type": "nominal"}}}
  ], "resolve": {"scale": {"y": "independent"}}}
 ], "spacing": 4, "bounds": "flush"},
 {"vconcat": [
  {"width": 149, "height": 62, "layer": [
   {"transform": [{"filter": "datum.k==10 && (datum.s=='Rudder angle' || datum.s=='Mast angle')"}], "mark": {"type": "line", "clip": true},
    "encoding": {"x": {"field": "t", "type": "quantitative", "scale": {"domain": [-0.5, 10.5], "nice": false, "zero": false}, "axis": {"values": [0,2,4,6,8,10], "tickCount": 20, "labels": false, "title": null}},
     "y": {"field": "v", "type": "quantitative", "scale": {"domain": [-30, 48], "nice": false, "zero": false}, "axis": {"values": [-20,0,20,40], "tickCount": 20, "labels": false, "title": null}},
     "color": {"field": "s", "type": "nominal"}, "strokeDash": {"field": "s", "type": "nominal"}}},
   {"data": {"values": [{}]}, "mark": {"type": "rect", "fill": "white", "stroke": "#666", "strokeWidth": 0.8}, "encoding": {"x": {"datum": 7.3}, "x2": {"datum": 10.3}, "y": {"datum": 29}, "y2": {"datum": 42}}},
   {"data": {"values": [{}]}, "mark": {"type": "text", "fontSize": 7, "color": "#222"}, "encoding": {"x": {"datum": 8.8}, "y": {"datum": 35.5}, "text": {"value": "Tack 10"}}}
  ]},
  {"width": 149, "height": 62, "title": {"text": "(e)", "orient": "bottom", "font": "Liberation Serif", "fontSize": 9.5, "fontWeight": "normal", "offset": 0, "color": "#222"}, "layer": [
   {"transform": [{"filter": "datum.k==10 && (datum.s=='SOG' || datum.s=='VMG')"}], "mark": {"type": "line", "clip": true},
    "encoding": {"x": {"field": "t", "type": "quantitative", "scale": {"domain": [-0.5, 10.5], "nice": false, "zero": false}, "axis": {"values": [0,2,4,6,8,10], "tickCount": 20, "format": "d", "title": "Time [s]"}},
     "y": {"field": "v", "type": "quantitative", "scale": {"domain": [0.1, 3.25], "nice": false, "zero": false}, "axis": {"values": [1,2,3], "tickCount": 20, "labels": false, "title": null}},
     "color": {"field": "s", "type": "nominal"}, "strokeDash": {"field": "s", "type": "nominal"}}},
   {"transform": [{"filter": "datum.k==10 && (datum.s=='Course' || datum.s=='EOWD')"}], "mark": {"type": "line", "clip": true},
    "encoding": {"x": {"field": "t", "type": "quantitative"},
     "y": {"field": "v", "type": "quantitative", "scale": {"domain": [-127, 23.4], "nice": false, "zero": false}, "axis": {"orient": "right", "values": [-100,-50,0], "tickCount": 20, "labels": false, "title": null, "grid": false}},
     "color": {"field": "s", "type": "nominal"}, "strokeDash": {"field": "s", "type": "nominal"}}}
  ], "resolve": {"scale": {"y": "independent"}}}
 ], "spacing": 4, "bounds": "flush"},
 {"vconcat": [
  {"width": 149, "height": 62, "layer": [
   {"transform": [{"filter": "datum.k==12 && (datum.s=='Rudder angle' || datum.s=='Mast angle')"}], "mark": {"type": "line", "clip": true},
    "encoding": {"x": {"field": "t", "type": "quantitative", "scale": {"domain": [-0.5, 10.5], "nice": false, "zero": false}, "axis": {"values": [0,2,4,6,8,10], "tickCount": 20, "labels": false, "title": null}},
     "y": {"field": "v", "type": "quantitative", "scale": {"domain": [-30, 48], "nice": false, "zero": false}, "axis": {"values": [-20,0,20,40], "tickCount": 20, "labels": false, "title": null}},
     "color": {"field": "s", "type": "nominal"}, "strokeDash": {"field": "s", "type": "nominal"}}},
   {"data": {"values": [{}]}, "mark": {"type": "rect", "fill": "white", "stroke": "#666", "strokeWidth": 0.8}, "encoding": {"x": {"datum": 7.3}, "x2": {"datum": 10.3}, "y": {"datum": 29}, "y2": {"datum": 42}}},
   {"data": {"values": [{}]}, "mark": {"type": "text", "fontSize": 7, "color": "#222"}, "encoding": {"x": {"datum": 8.8}, "y": {"datum": 35.5}, "text": {"value": "Tack 12"}}}
  ]},
  {"width": 149, "height": 62, "title": {"text": "(f)", "orient": "bottom", "font": "Liberation Serif", "fontSize": 9.5, "fontWeight": "normal", "offset": 0, "color": "#222"}, "layer": [
   {"transform": [{"filter": "datum.k==12 && (datum.s=='SOG' || datum.s=='VMG')"}], "mark": {"type": "line", "clip": true},
    "encoding": {"x": {"field": "t", "type": "quantitative", "scale": {"domain": [-0.5, 10.5], "nice": false, "zero": false}, "axis": {"values": [0,2,4,6,8,10], "tickCount": 20, "format": "d", "title": "Time [s]"}},
     "y": {"field": "v", "type": "quantitative", "scale": {"domain": [0.1, 3.25], "nice": false, "zero": false}, "axis": {"values": [1,2,3], "tickCount": 20, "labels": false, "title": null}},
     "color": {"field": "s", "type": "nominal"}, "strokeDash": {"field": "s", "type": "nominal"}}},
   {"transform": [{"filter": "datum.k==12 && (datum.s=='Course' || datum.s=='EOWD')"}], "mark": {"type": "line", "clip": true},
    "encoding": {"x": {"field": "t", "type": "quantitative"},
     "y": {"field": "v", "type": "quantitative", "scale": {"domain": [-127, 23.4], "nice": false, "zero": false}, "axis": {"orient": "right", "values": [-100,-50,0], "tickCount": 20, "format": "d", "title": "Course / EOWD [deg]", "grid": false, "titlePadding": 19, "titleFontSize": 7}},
     "color": {"field": "s", "type": "nominal"}, "strokeDash": {"field": "s", "type": "nominal"}}}
  ], "resolve": {"scale": {"y": "independent"}}}
 ], "spacing": 4, "bounds": "flush"}
], "spacing": 1}
], "spacing": 0
}
